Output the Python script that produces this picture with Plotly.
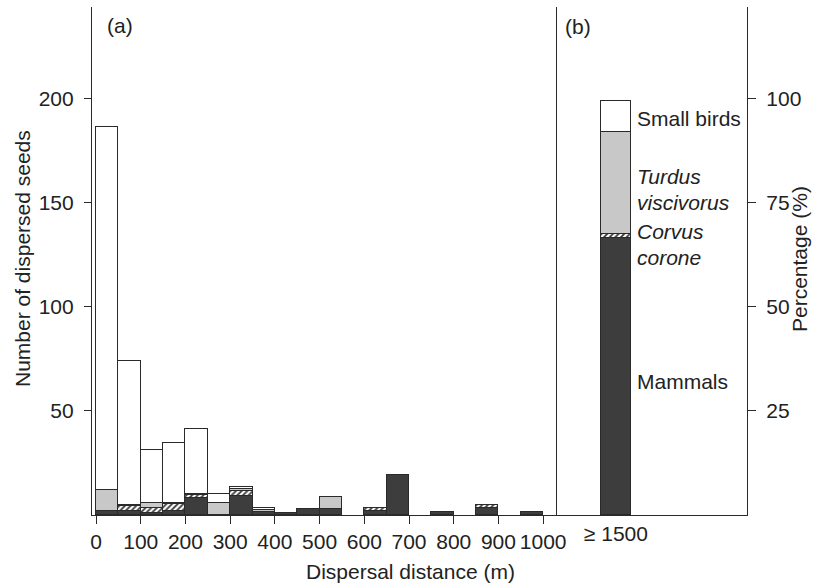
import plotly.graph_objects as go

# ---- data ----
bin_centers = [25, 75, 125, 175, 225, 275, 325, 375, 425, 475, 525, 575, 625, 675, 725, 775, 825, 875, 925, 975]
mammals = [2, 2, 1, 2, 8, None, 9, 1.5, 1, 3, 3, None, 2, 19, None, 1.3, None, 3.2, None, 1.3]
corvus = [None, 2.3, 2.2, 3.3, 1.4, None, 2.5, None, None, None, None, None, 1.2, None, None, None, None, 1.6, None, None]
turdus = [10, 0.5, 2.7, 0.6, 0.8, 5.6, 0.8, 0.8, None, None, 5.5, None, None, None, None, None, None, None, None, None]
small_birds = [174.4, 69.4, 25.4, 28.9, 31.3, 4.3, 1.3, 0.9, None, None, None, None, None, None, None, None, None, None, None, None]

x_ticks = [0, 100, 200, 300, 400, 500, 600, 700, 800, 900, 1000]
y_ticks = [50, 100, 150, 200]
pct_ticks = [25, 50, 75, 100]

far_label = "≥ 1500"
far_pct = {"Mammals": 66.5, "Corvus corone": 1.0, "Turdus viscivorus": 24.5, "Small birds": 7.5}

FONT = "Liberation Sans, Arial, Helvetica, sans-serif"
INK = "#2a2a2a"
DARK = "#3d3d3d"
LIGHT = "#c8c8c8"
OUT = dict(color=INK, width=1.4)
FS = 21

hatch = dict(shape="/", fgcolor="#333333", bgcolor="white", size=4, solidity=0.45, fillmode="replace")

fig = go.Figure()

series = [
    ("Mammals", mammals, dict(color=DARK, line=OUT)),
    ("Corvus corone", corvus, dict(color="white", pattern=hatch, line=OUT)),
    ("Turdus viscivorus", turdus, dict(color=LIGHT, line=OUT)),
    ("Small birds", small_birds, dict(color="white", line=OUT)),
]
for name, vals, mk in series:
    fig.add_trace(go.Bar(x=bin_centers, y=vals, width=50, name=name, marker=mk,
                         xaxis="x", yaxis="y", showlegend=False))

far_x = 0.31
for name, _, mk in series:
    fig.add_trace(go.Bar(x=[far_x], y=[far_pct[name]], width=0.158, name=name, marker=mk,
                         xaxis="x2", yaxis="y2", showlegend=False))

tick_font = dict(family=FONT, size=FS, color="#222")
split = (557 - 92) / 655

fig.update_layout(
    width=837, height=588,
    margin=dict(l=92, r=90, t=7, b=73),
    paper_bgcolor="white", plot_bgcolor="white",
    barmode="stack", bargap=0,
    font=dict(family=FONT, size=FS, color="#222"),
    xaxis=dict(domain=[0, split], range=[-9, 1031], tickvals=x_ticks, ticks="outside", ticklen=8,
               tickwidth=1.2, tickcolor=INK, showline=True, linecolor=INK, linewidth=1.2,
               showgrid=False, zeroline=False, tickfont=tick_font, anchor="y"),
    yaxis=dict(domain=[0, 1], range=[0, 244.2], tickvals=y_ticks, ticks="outside", ticklen=7,
               tickwidth=1.2, tickcolor=INK, showline=True, linecolor=INK, linewidth=1.2,
               showgrid=False, zeroline=False, tickfont=tick_font, anchor="x", ticklabelstandoff=6),
    xaxis2=dict(domain=[split, 1], range=[0, 1], tickvals=[far_x], ticktext=[far_label], ticks="",
                showline=True, linecolor=INK, linewidth=1.2, showgrid=False, zeroline=False,
                tickfont=tick_font, anchor="y2"),
    yaxis2=dict(domain=[0, 1], range=[0, 122.1], tickvals=pct_ticks, ticks="outside", ticklen=8,
                tickwidth=1.2, tickcolor=INK, side="right", showline=True, mirror=True,
                linecolor=INK, linewidth=1.2, showgrid=False, zeroline=False,
                tickfont=tick_font, anchor="x2", ticklabelstandoff=6),
)

ann = []
ann.append(dict(text="(a)", x=20, y=235.5, xref="x", yref="y", xanchor="left", yanchor="middle", showarrow=False))
ann.append(dict(text="(b)", x=0.03, y=117.3, xref="x2", yref="y2", xanchor="left", yanchor="middle", showarrow=False))
labels = [("Small birds", 95.2), ("<i>Turdus</i>", 81.3), ("<i>viscivorus</i>", 75.2),
          ("<i>Corvus</i>", 68.1), ("<i>corone</i>", 61.8), ("Mammals", 32.0)]
for t, yv in labels:
    ann.append(dict(text=t, x=0.41, y=yv, xref="x2", yref="y2", xanchor="left", yanchor="middle", showarrow=False))
ann.append(dict(text="Number of dispersed seeds", textangle=-90, x=(22 - 92) / 655, y=(515 - 259) / 508,
                xref="paper", yref="paper", xanchor="center", yanchor="middle", showarrow=False))
ann.append(dict(text="Percentage (%)", textangle=-90, x=(799 - 92) / 655, y=(515 - 259) / 508,
                xref="paper", yref="paper", xanchor="center", yanchor="middle", showarrow=False))
ann.append(dict(text="Dispersal distance (m)", x=(410 - 92) / 655, y=(515 - 571) / 508,
                xref="paper", yref="paper", xanchor="center", yanchor="middle", showarrow=False))
fig.update_layout(annotations=ann)

fig.write_html("out.html", config={"displayModeBar": False},
               post_script="document.body.style.margin='0';document.body.style.overflow='hidden';")
